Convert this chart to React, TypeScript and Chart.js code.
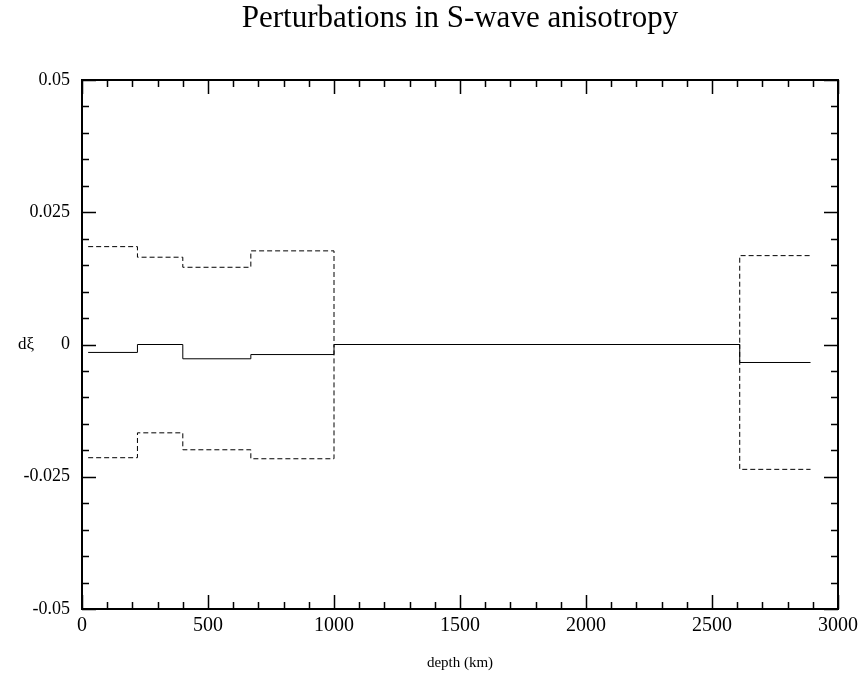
import React, { useEffect, useRef } from "react";
import { Chart, registerables } from "chart.js";

Chart.register(...registerables);

// Layer boundaries (depth, km) — last entry is the end of the final layer
const depthBoundaries = [24.4, 220, 400, 670, 1000, 2610, 2891];
// Perturbation per layer
const meanValues = [-0.0015, 0.0, -0.0027, -0.0019, 0.0, -0.0034];
const upperValues = [0.0185, 0.0165, 0.0146, 0.0177, 0.0, 0.0168];
const lowerValues = [-0.0214, -0.0167, -0.0199, -0.0216, 0.0, -0.0236];

const xTickValues = [0, 500, 1000, 1500, 2000, 2500, 3000];
const yTickValues = [-0.05, -0.025, 0, 0.025, 0.05];

const FONT = "'Liberation Serif', 'Times New Roman', serif";

function toSteps(values: number[]) {
  const pts = values.map((v, i) => ({ x: depthBoundaries[i], y: v }));
  pts.push({ x: depthBoundaries[depthBoundaries.length - 1], y: values[values.length - 1] });
  return pts;
}

const framePlugin = {
  id: "frameTicks",
  afterDraw(chart: any) {
    const { ctx, chartArea } = chart;
    const { left, right, top, bottom } = chartArea;
    const xs = chart.scales.x;
    const ys = chart.scales.y;
    ctx.save();
    ctx.strokeStyle = "#000";
    ctx.lineWidth = 1.5;
    // x ticks (top & bottom)
    for (let v = xs.min; v <= xs.max + 1e-9; v += 100) {
      const major = Math.abs(v % 500) < 1e-6;
      const len = major ? 14 : 7;
      const px = Math.round(xs.getPixelForValue(v)) + 0.5;
      ctx.beginPath();
      ctx.moveTo(px, bottom);
      ctx.lineTo(px, bottom - len);
      ctx.moveTo(px, top);
      ctx.lineTo(px, top + len);
      ctx.stroke();
    }
    // y ticks (left & right)
    for (let i = 0; i <= 20; i++) {
      const v = ys.min + i * 0.005;
      const major = i % 5 === 0;
      const len = major ? 14 : 7;
      const py = Math.round(ys.getPixelForValue(v)) + 0.5;
      ctx.beginPath();
      ctx.moveTo(left, py);
      ctx.lineTo(left + len, py);
      ctx.moveTo(right, py);
      ctx.lineTo(right - len, py);
      ctx.stroke();
    }
    ctx.lineWidth = 2;
    ctx.strokeRect(left, top, right - left, bottom - top);
    // axis labels
    ctx.fillStyle = "#000";
    ctx.font = `15px ${FONT}`;
    ctx.textAlign = "center";
    ctx.textBaseline = "middle";
    ctx.fillText("depth (km)", (left + right) / 2, 663);
    ctx.font = `17px ${FONT}`;
    ctx.fillText("dξ", 26, ys.getPixelForValue(0));
    ctx.restore();
  },
};

export default function App() {
  const ref = useRef<HTMLCanvasElement | null>(null);
  useEffect(() => {
    if (!ref.current) return;
    const lineBase = {
      stepped: "before" as const,
      borderColor: "#000",
      borderWidth: 1,
      pointRadius: 0,
      fill: false,
    };
    const chart = new Chart(ref.current, {
      type: "line",
      data: {
        datasets: [
          { ...lineBase, label: "upper", data: toSteps(upperValues), borderDash: [5, 3] },
          { ...lineBase, label: "lower", data: toSteps(lowerValues), borderDash: [5, 3] },
          { ...lineBase, label: "mean", data: toSteps(meanValues) },
        ],
      },
      options: {
        responsive: false,
        animation: false,
        layout: { padding: { left: 0, right: 24, top: 0, bottom: 0 } },
        plugins: {
          legend: { display: false },
          tooltip: { enabled: false },
          title: {
            display: true,
            text: "Perturbations in S-wave anisotropy",
            fullSize: false,
            color: "#000",
            font: { family: FONT, size: 31, weight: "normal", lineHeight: 1.2 },
            padding: { top: 0, bottom: 42.8 },
          },
        },
        scales: {
          x: {
            type: "linear",
            min: 0,
            max: 3000,
            afterBuildTicks: (s: any) => {
              s.ticks = xTickValues.map((v) => ({ value: v }));
            },
            afterFit: (s: any) => {
              s.height = 75;
              s.paddingLeft = 0;
              s.paddingRight = 0;
            },
            grid: { display: false, drawTicks: false },
            border: { display: false },
            ticks: {
              color: "#000",
              padding: 5,
              maxRotation: 0,
              autoSkip: false,
              font: { family: FONT, size: 20 },
              callback: (v: any) => String(v),
            },
          },
          y: {
            type: "linear",
            min: -0.05,
            max: 0.05,
            afterBuildTicks: (s: any) => {
              s.ticks = yTickValues.map((v) => ({ value: v }));
            },
            afterFit: (s: any) => {
              s.width = 82;
              s.paddingTop = 0;
              s.paddingBottom = 0;
            },
            grid: { display: false, drawTicks: false },
            border: { display: false },
            ticks: {
              color: "#000",
              padding: 12,
              autoSkip: false,
              font: { family: FONT, size: 18 },
              callback: (v: any) => String(Number(Number(v).toFixed(3))),
            },
          },
        },
      },
      plugins: [framePlugin],
    });
    return () => chart.destroy();
  }, []);
  return (
    <div style={{ position: "absolute", left: 0, top: 0, width: 862, height: 684, background: "#fff" }}>
      <canvas ref={ref} width={862} height={684} style={{ display: "block" }} />
    </div>
  );
}
